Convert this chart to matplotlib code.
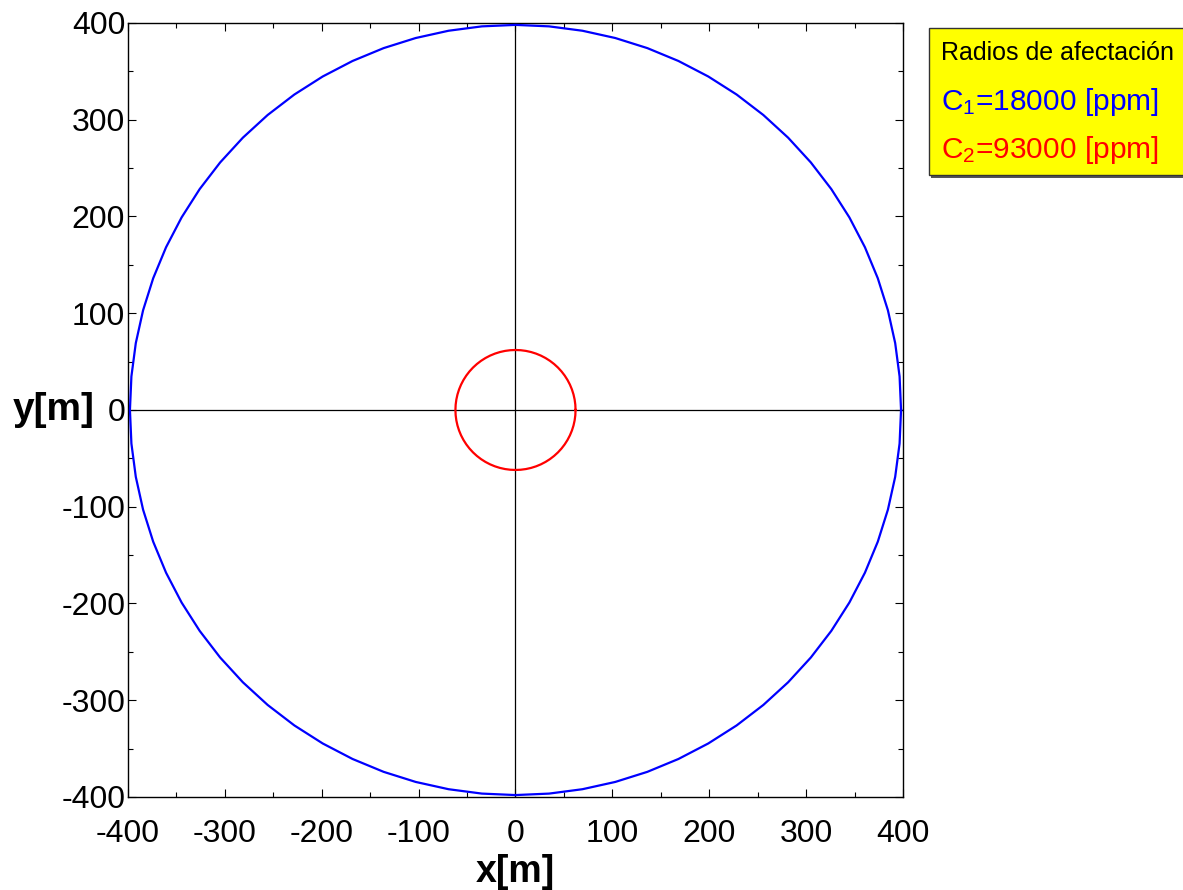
import numpy as np
import matplotlib
matplotlib.use("Agg")
import matplotlib.pyplot as plt
from matplotlib.patches import Rectangle

plt.rcParams['font.family'] = ['Liberation Sans', 'DejaVu Sans']
plt.rcParams['mathtext.default'] = 'regular'
plt.rcParams['axes.unicode_minus'] = False

# data
concentrations = [18000, 93000]   # ppm
radii = [398, 62]                 # m
colors = ['#0000ff', '#ff0000']
labels = ['C$_1$=18000 [ppm]', 'C$_2$=93000 [ppm]']
legend_title = 'Radios de afectación'
ticks = [-400, -300, -200, -100, 0, 100, 200, 300, 400]
step_deg = 5

fig = plt.figure(figsize=(11.83, 8.90), dpi=100)
ax = fig.add_axes([0.1082, 0.1045, 0.6551, 0.8697])

theta = np.deg2rad(np.arange(0, 360 + step_deg, step_deg))
for r, c in zip(radii, colors):
    ax.plot(r * np.cos(theta), r * np.sin(theta), color=c, lw=1.6, zorder=3)

ax.axhline(0, color='black', lw=0.9, zorder=2)
ax.axvline(0, color='black', lw=0.9, zorder=2)

ax.set_xlim(-400, 400)
ax.set_ylim(-400, 400)
ax.set_xticks(ticks)
ax.set_yticks(ticks)
ax.set_xticks(np.arange(-350, 400, 100), minor=True)
ax.set_yticks(np.arange(-350, 400, 100), minor=True)
ax.tick_params(which='both', direction='in', top=True, right=True, width=0.8)
ax.tick_params(which='major', length=6, labelsize=23)
ax.tick_params(axis='x', which='major', pad=16)
ax.tick_params(axis='y', which='major', pad=2)
ax.tick_params(which='minor', length=3.5)
for s in ax.spines.values():
    s.set_linewidth(1.0)

ax.set_xlabel('x[m]', fontsize=27, fontweight='bold', va='center')
ax.xaxis.set_label_coords(0.5, -0.097)
ax.set_ylabel('y[m]', fontsize=28, fontweight='bold', rotation=0, va='center', ha='center')
ax.yaxis.set_label_coords(-0.096, 0.5)

# legend box
fx = lambda px: px / 1183.0
fy = lambda py: 1 - py / 890.0
shadow = Rectangle((fx(931), fy(178)), fx(270), fy(31) - fy(178), transform=fig.transFigure,
                   facecolor='#555555', edgecolor='none', zorder=1)
box = Rectangle((fx(929), fy(175)), fx(270), fy(28) - fy(175), transform=fig.transFigure,
                facecolor='#ffff00', edgecolor='#333333', lw=1.0, zorder=2)
fig.patches.extend([shadow, box])
fig.text(fx(941), fy(60), legend_title, fontsize=18, color='black', va='baseline', zorder=3)
fig.text(fx(941), fy(110), labels[0], fontsize=21.5, color=colors[0], va='baseline', zorder=3)
fig.text(fx(941), fy(158), labels[1], fontsize=21.5, color=colors[1], va='baseline', zorder=3)

fig.savefig('out.png', dpi=100)
